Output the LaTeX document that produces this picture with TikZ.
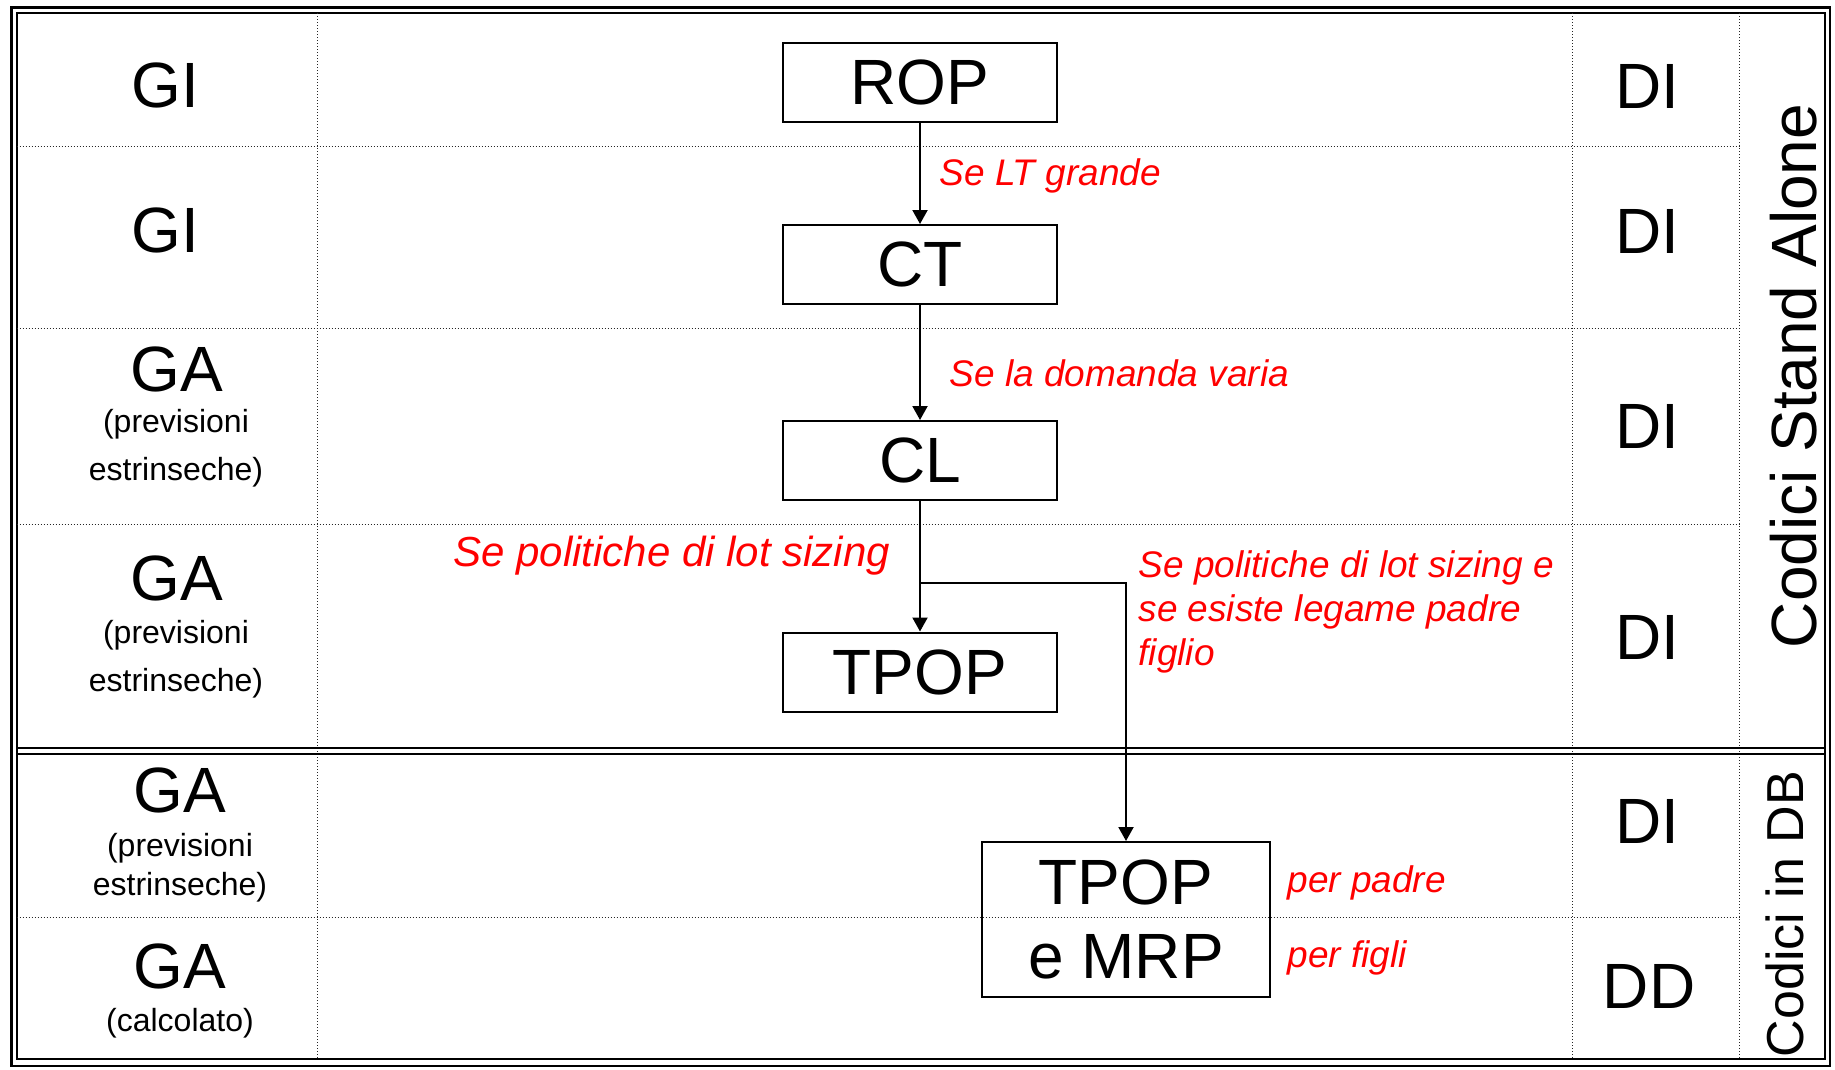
\documentclass[tikz,border=0pt]{standalone}
\usepackage{fontspec}
\setmainfont{Liberation Sans}
\usetikzlibrary{arrows.meta}

\begin{document}
\begin{tikzpicture}[x=1pt, y=-1pt,
	griglia/.style={dotted, line width=1pt, black!85},
	blocco/.style={draw, line width=2pt, minimum width=274pt, minimum height=79pt, inner sep=0pt, font=\fontsize{64}{74}\selectfont},
	freccia/.style={line width=2pt, -{Triangle[width=15pt, length=14pt]}},
	grande/.style={anchor=base, font=\fontsize{64}{74}\selectfont},
	piccolo/.style={align=center, font=\fontsize{32}{48}\selectfont},
	nota/.style={anchor=base west, align=left, text=red, font=\fontsize{37}{44}\selectfont\itshape}]
	\useasboundingbox (0,0) rectangle (1835,1069);
	\draw[line width=2.4pt] (11.5,7.5) rectangle (1830,1066);
	\draw[line width=2pt] (16.5,13) rectangle (1825,1059);
	\foreach \y in {146,328,524,917} \draw[griglia] (16.5,\y) -- (1739,\y);
	\foreach \x in {317,1572,1739} \draw[griglia] (\x,13) -- (\x,1059);
	\draw[line width=2pt] (16.5,748) -- (1825,748) (16.5,754) -- (1825,754);
	\node[blocco] (rop) at (920,82.5) {ROP};
	\node[blocco] (ct) at (920,264.5) {CT};
	\node[blocco] (cl) at (920,460.5) {CL};
	\node[blocco] (tpop) at (920,672) {TPOP};
	\node[blocco, minimum width=288pt, minimum height=155pt, align=center] (mrp) at (1126,919.5) {TPOP\\e MRP};
	\coordinate (bivio) at (920,583);
	\draw[freccia] (rop) -- (ct);
	\draw[freccia] (ct) -- (cl);
	\draw[freccia] (cl) -- (tpop);
	\draw[freccia] (bivio) -| (mrp);
	\node[nota] (ltgrande) at (936,185) {Se LT grande};
	\node[nota] (domanda) at (946,386) {Se la domanda varia};
	\node[nota, font=\fontsize{42}{50}\selectfont\itshape] (lotsizing) at (450,566) {Se politiche di lot sizing};
	\node[nota] (legame) at (1135,665) {Se politiche di lot sizing e\\se esiste legame padre\\figlio};
	\node[nota] (padre) at (1284,892) {per padre};
	\node[nota] (figli) at (1284,967) {per figli};
	\node[grande] (gi1) at (165,107) {GI};
	\node[grande] (gi2) at (165,252) {GI};
	\node[grande] (ga3) at (177,391) {GA};
	\node[piccolo] (prev3) at (176,448) {(previsioni\\estrinseche)};
	\node[grande] (ga4) at (177,600) {GA};
	\node[piccolo] (prev4) at (176,659) {(previsioni\\estrinseche)};
	\node[grande] (ga5) at (180,812) {GA};
	\node[piccolo, font=\fontsize{32}{39}\selectfont] (prev5) at (180,868) {(previsioni\\estrinseche)};
	\node[grande] (ga6) at (180,988) {GA};
	\node[piccolo] (calc6) at (180,1023) {(calcolato)};
	\node[grande] (di1) at (1647,108) {DI};
	\node[grande] (di2) at (1647,253) {DI};
	\node[grande] (di3) at (1647,448) {DI};
	\node[grande] (di4) at (1647,659) {DI};
	\node[grande] (di5) at (1647,843) {DI};
	\node[grande] (dd6) at (1649,1008) {DD};
	\node[grande, anchor=center, rotate=90] (standalone) at (1794,376) {Codici Stand Alone};
	\node[anchor=center, rotate=90, font=\fontsize{52}{60}\selectfont] (indb) at (1785,914) {Codici in DB};
\end{tikzpicture}
\end{document}
